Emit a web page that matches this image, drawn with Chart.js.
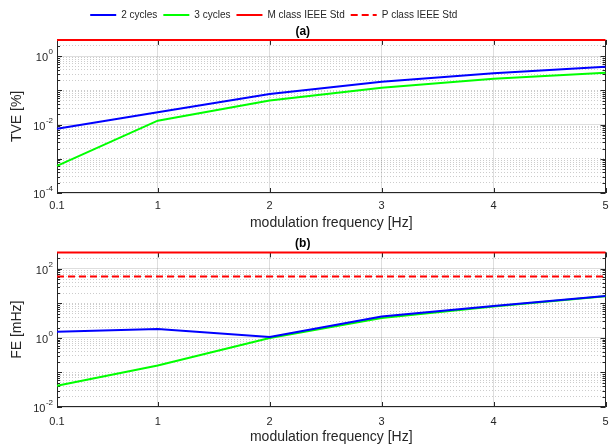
<!DOCTYPE html>
<html>
<head>
<meta charset="utf-8">
<script src="https://cdn.jsdelivr.net/npm/chart.js@4.4.0/dist/chart.umd.min.js"></script>
<style>
  html, body { margin: 0; padding: 0; background: #fff; }
  #wrap { position: relative; width: 610px; height: 444px; }
  .box { position: absolute; left: 0; width: 610px; }
  #boxA { top: 0; height: 232px; }
  #boxB { top: 232px; height: 212px; }
</style>
</head>
<body>
<div id="wrap">
  <div class="box" id="boxA"><canvas id="chartA"></canvas></div>
  <div class="box" id="boxB"><canvas id="chartB"></canvas></div>
</div>
<script>
// Data
const freq = [0.1, 1, 2, 3, 4, 5];
const xTicks = [0.1, 1, 2, 3, 4, 5];
const limitX = [0.1, 5];

// (a) TVE [%]
const tve2 = [0.0076, 0.023, 0.078, 0.18, 0.32, 0.49];
const tve3 = [0.00062, 0.013, 0.051, 0.12, 0.22, 0.33];
const tveM = [3, 3];
const tveP = [3, 3];
const tveRange = [1e-4, 3];
const tveLabelExp = [-4, -2, 0];

// (b) FE [mHz]
const fe2 = [1.5, 1.8, 1.07, 4.2, 8.4, 16.5];
const fe3 = [0.041, 0.16, 1.0, 3.8, 8.2, 16];
const feM = [300, 300];
const feP = [60, 60];
const feRange = [1e-2, 300];
const feLabelExp = [-2, 0, 2];

const FONT = 'Arial, "Liberation Sans", Helvetica, sans-serif';
const TEXT = '#262626';

function expOf(v) {
    const e = Math.log10(v);
    return Math.abs(e - Math.round(e)) < 1e-6 ? Math.round(e) : null;
}

function logTicks(min, max) {
    const out = [];
    for (let e = Math.floor(Math.log10(min)); e <= Math.ceil(Math.log10(max)); e++) {
        for (let m = 1; m <= 9; m++) {
            const v = m * Math.pow(10, e);
            if (v >= min * 0.999 && v <= max * 1.001) out.push({value: v});
        }
    }
    return out;
}

function series(label, xs, ys, color, dash) {
    return {
        label: label,
        data: xs.map((x, i) => ({x: x, y: ys[i]})),
        borderColor: color,
        backgroundColor: color,
        borderWidth: 2,
        borderDash: dash || [],
        pointRadius: 0,
        tension: 0,
        clip: 4
    };
}

// box round the plot plus small inward ticks, like the original axes
const framePlugin = {
    id: 'frame',
    beforeDatasetsDraw(chart) {
        const {ctx, chartArea: a, scales} = chart;
        ctx.save();
        ctx.strokeStyle = TEXT;
        ctx.lineWidth = 1;
        ctx.beginPath();
        scales.x.ticks.forEach(t => {
            const px = Math.round(scales.x.getPixelForValue(t.value)) + 0.5;
            ctx.moveTo(px, a.bottom); ctx.lineTo(px, a.bottom - 5);
            ctx.moveTo(px, a.top); ctx.lineTo(px, a.top + 5);
        });
        scales.y.ticks.forEach(t => {
            const py = Math.round(scales.y.getPixelForValue(t.value)) + 0.5;
            const len = expOf(t.value) !== null ? 5 : 3;
            ctx.moveTo(a.left, py); ctx.lineTo(a.left + len, py);
            ctx.moveTo(a.right, py); ctx.lineTo(a.right - len, py);
        });
        ctx.stroke();
        ctx.strokeRect(Math.round(a.left) + 0.5, Math.round(a.top) + 0.5,
            Math.round(a.right - a.left) - 1, Math.round(a.bottom - a.top) - 1);
        ctx.restore();
    }
};

// y labels as 10 with a raised exponent
const powerLabels = {
    id: 'powerLabels',
    afterDraw(chart) {
        const {ctx, chartArea: a, scales} = chart;
        const exps = chart.options.plugins.powerLabels.exps;
        ctx.save();
        ctx.fillStyle = TEXT;
        ctx.textAlign = 'right';
        ctx.textBaseline = 'middle';
        exps.forEach(e => {
            const py = scales.y.getPixelForValue(Math.pow(10, e));
            const x = a.left - 4;
            ctx.font = '8px ' + FONT;
            const sup = String(e);
            const w = ctx.measureText(sup).width;
            ctx.fillText(sup, x, py - 4);
            ctx.font = '11px ' + FONT;
            ctx.fillText('10', x - w - 0.5, py + 2);
        });
        ctx.restore();
    }
};

// the legend in the original sits a little left of centre
const legendShift = {
    id: 'legendShift',
    afterLayout(chart) {
        if (chart.legend && chart.options.plugins.legend.display) {
            chart.legend.right -= 58;
        }
    }
};

function makeChart(id, opts) {
    const major = opts.labelExp;
    return new Chart(document.getElementById(id), {
        type: 'line',
        data: {
            datasets: [
                series('2 cycles', freq, opts.s2, '#0000ff'),
                series('3 cycles', freq, opts.s3, '#00ff00'),
                series('M class IEEE Std', limitX, opts.m, '#ff0000'),
                series('P class IEEE Std', limitX, opts.p, '#ff0000', [7, 4])
            ]
        },
        options: {
            responsive: true,
            maintainAspectRatio: false,
            animation: false,
            layout: {padding: {top: opts.padTop, right: 4.5, left: 0, bottom: 0}},
            plugins: {
                powerLabels: {exps: major},
                legend: {
                    display: opts.legend,
                    position: 'top',
                    weight: 3000,
                    labels: {
                        usePointStyle: true,
                        pointStyle: 'line',
                        pointStyleWidth: 26,
                        padding: 6,
                        color: TEXT,
                        font: {family: FONT, size: 10},
                        generateLabels: chart => {
                            const items = Chart.defaults.plugins.legend.labels.generateLabels(chart);
                            items.forEach(item => {
                                const ds = chart.data.datasets[item.datasetIndex];
                                item.lineDash = ds.borderDash;
                                item.lineWidth = 2;
                                item.strokeStyle = ds.borderColor;
                            });
                            return items;
                        }
                    }
                },
                title: {
                    display: true,
                    text: opts.title,
                    color: '#000',
                    font: {family: FONT, size: 12, weight: 'bold'},
                    padding: opts.titlePad
                },
                tooltip: {enabled: false}
            },
            scales: {
                x: {
                    type: 'linear',
                    min: 0.1,
                    max: 5,
                    afterBuildTicks: scale => { scale.ticks = xTicks.map(v => ({value: v})); },
                    afterFit: scale => {
                        scale.height = opts.xHeight;
                        scale.paddingRight = 0;
                        scale.paddingLeft = 0;
                    },
                    ticks: {
                        color: TEXT,
                        font: {family: FONT, size: 11},
                        padding: opts.xTickPad,
                        maxRotation: 0,
                        autoSkip: false,
                        callback: v => String(v)
                    },
                    grid: {color: 'rgba(0,0,0,0.13)', lineWidth: 1, drawTicks: false},
                    border: {display: false},
                    title: {
                        display: true,
                        text: 'modulation frequency [Hz]',
                        color: TEXT,
                        font: {family: FONT, size: 14},
                        padding: {top: 0, bottom: opts.xTitlePad}
                    }
                },
                y: {
                    type: 'logarithmic',
                    min: opts.range[0],
                    max: opts.range[1],
                    afterBuildTicks: scale => { scale.ticks = logTicks(opts.range[0], opts.range[1]); },
                    afterFit: scale => { scale.width = 57; },
                    ticks: {
                        autoSkip: false,
                        callback: () => ''
                    },
                    grid: {
                        drawTicks: false,
                        color: ctx => {
                            const e = expOf(ctx.tick.value);
                            return (e !== null && major.indexOf(e) >= 0) ? 'rgba(0,0,0,0.13)' : 'rgba(0,0,0,0.2)';
                        },
                        lineWidth: 1
                    },
                    border: {
                        display: false,
                        dash: ctx => {
                            const e = expOf(ctx.tick.value);
                            return (e !== null && major.indexOf(e) >= 0) ? [] : [1, 2];
                        }
                    },
                    title: {
                        display: true,
                        text: opts.yTitle,
                        color: TEXT,
                        font: {family: FONT, size: 14},
                        padding: {top: 9, bottom: 0}
                    }
                }
            }
        },
        plugins: [framePlugin, powerLabels, legendShift]
    });
}

makeChart('chartA', {
    s2: tve2, s3: tve3, m: tveM, p: tveP,
    range: tveRange, labelExp: tveLabelExp,
    yTitle: 'TVE [%]', title: '(a)', legend: true,
    padTop: 4, titlePad: {top: -6, bottom: 1.5}, xHeight: 39,
    xTickPad: 6, xTitlePad: 0
});

makeChart('chartB', {
    s2: fe2, s3: fe3, m: feM, p: feP,
    range: feRange, labelExp: feLabelExp,
    yTitle: 'FE [mHz]', title: '(b)', legend: false,
    padTop: 4, titlePad: {top: 0, bottom: 2}, xHeight: 37,
    xTickPad: 8, xTitlePad: -1.5
});
</script>
</body>
</html>
